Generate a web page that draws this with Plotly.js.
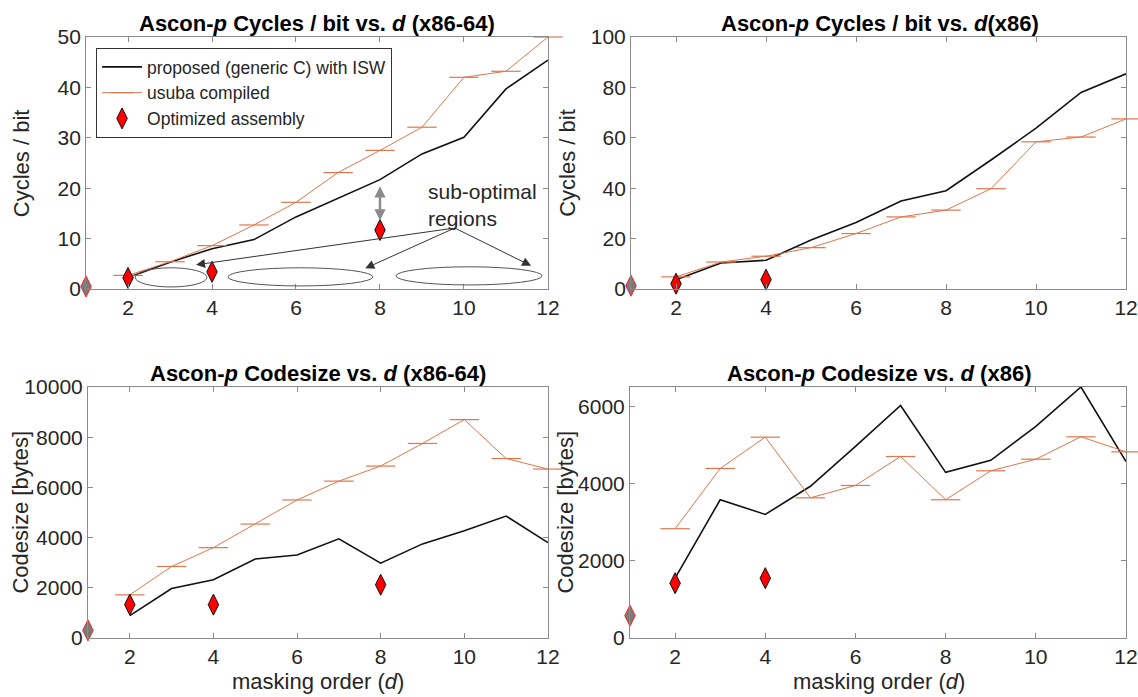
<!DOCTYPE html>
<html>
<head>
<meta charset="utf-8">
<script src="https://cdn.plot.ly/plotly-3.0.1.min.js"></script>
<style>html,body{margin:0;padding:0;background:#fff;}#chart{width:1138px;height:697px;}</style>
</head>
<body>
<div id="chart"></div>
<script>
// ---- data ----
const orders = [2, 3, 4, 5, 6, 7, 8, 9, 10, 11, 12];
const asmOrders64 = [2, 4, 8];
const asmOrders86 = [2, 4];
const baseOrder = [1];

const cycles64_isw   = [2.3, 5.3, 8.0, 9.8, 14.3, 18.0, 21.7, 26.8, 30.1, 39.7, 45.4];
const cycles64_usuba = [2.7, 5.4, 8.6, 12.7, 17.2, 23.1, 27.5, 32.1, 42.0, 43.2, 50.0];
const cycles64_asm   = [2.2, 3.4, 11.7];
const cycles64_base  = [0.5];

const cycles86_isw   = [3.7, 10.3, 11.4, 19.4, 26.4, 34.9, 39.0, 51.2, 63.8, 78.0, 85.4];
const cycles86_usuba = [4.8, 10.7, 13.0, 16.4, 22.0, 28.6, 31.3, 39.8, 58.4, 60.3, 67.5];
const cycles86_asm   = [2.1, 3.7];
const cycles86_base  = [1.3];

const code64_isw   = [890, 1970, 2320, 3150, 3310, 3950, 2980, 3750, 4270, 4860, 3800];
const code64_usuba = [1720, 2850, 3600, 4540, 5500, 6250, 6850, 7750, 8700, 7150, 6730];
const code64_asm   = [1330, 1330, 2120];
const code64_base  = [305];

const code86_isw   = [1550, 3580, 3200, 3930, 4960, 6020, 4290, 4600, 5480, 6500, 4570];
const code86_usuba = [2830, 4390, 5200, 3630, 3950, 4700, 3580, 4330, 4630, 5210, 4820];
const code86_asm   = [1420, 1550];
const code86_base  = [580];

const xTicks = [2, 4, 6, 8, 10, 12];
const seriesNames = ['proposed (generic C) with ISW', 'usuba compiled', 'Optimized assembly'];

// ---- styles ----
const FONT = 'Liberation Sans, Arial, sans-serif';
const ORANGE = '#e0764c';
const TXT = '#262626';
const AX = '#8a8a8a';

function panel(xa, ya, isw, usuba, asmX, asmY, baseY, legend) {
  return [
    {x: orders, y: isw, xaxis: xa, yaxis: ya, type: 'scatter', mode: 'lines',
     name: seriesNames[0], showlegend: legend, legendrank: 1,
     line: {color: '#111', width: 1.6}, cliponaxis: false},
    {x: orders, y: usuba, xaxis: xa, yaxis: ya, type: 'scatter', mode: 'lines+markers',
     name: seriesNames[1], showlegend: legend, legendrank: 2,
     line: {color: ORANGE, width: 1},
     marker: {symbol: 'line-ew', size: 21, color: ORANGE, line: {color: ORANGE, width: 1.2}},
     cliponaxis: false},
    {x: baseOrder, y: baseY, xaxis: xa, yaxis: ya, type: 'scatter', mode: 'markers',
     showlegend: false,
     marker: {symbol: 'diamond-tall', size: 15, color: '#7a7a7a', line: {color: '#ff2020', width: 1}},
     cliponaxis: false},
    {x: asmX, y: asmY, xaxis: xa, yaxis: ya, type: 'scatter', mode: 'markers',
     name: seriesNames[2], showlegend: legend, legendrank: 3,
     marker: {symbol: 'diamond-tall', size: 15, color: '#ff0000', line: {color: '#111', width: 1}},
     cliponaxis: false}
  ];
}

const data = [].concat(
  panel('x', 'y', cycles64_isw, cycles64_usuba, asmOrders64, cycles64_asm, cycles64_base, true),
  panel('x2', 'y2', cycles86_isw, cycles86_usuba, asmOrders86, cycles86_asm, cycles86_base, false),
  panel('x3', 'y3', code64_isw, code64_usuba, asmOrders64, code64_asm, code64_base, false),
  panel('x4', 'y4', code86_isw, code86_usuba, asmOrders86, code86_asm, code86_base, false)
);

function xax(domain, anchor) {
  return {domain: domain, anchor: anchor, range: [1, 12], tickvals: xTicks,
    showline: true, mirror: 'ticks', linecolor: AX, linewidth: 1,
    ticks: 'inside', ticklen: 5, tickcolor: AX, showgrid: false, zeroline: false,
    ticklabeloverflow: 'allow',
    tickfont: {family: FONT, size: 21, color: TXT}, fixedrange: true};
}
function yax(domain, anchor, range, dtick) {
  return {domain: domain, anchor: anchor, range: range, dtick: dtick, tickformat: 'd',
    showline: true, mirror: 'ticks', linecolor: AX, linewidth: 1,
    ticks: 'inside', ticklen: 5, tickcolor: AX, showgrid: false, zeroline: false,
    ticklabeloverflow: 'allow',
    tickfont: {family: FONT, size: 21, color: TXT}, fixedrange: true};
}

const TOP = [0.5854, 0.9469], BOT = [0.0846, 0.4448];
const titleFont = {family: FONT, size: 22, color: '#000'};
const labFont = {family: FONT, size: 22, color: TXT};

const annotations = [
  {text: '<b>Ascon-<i>p</i> Cycles / bit vs. <i>d</i> (x86-64)</b>', xref: 'paper', yref: 'paper', x: 0.2786, y: 0.967, showarrow: false, font: titleFont, xanchor: 'center', yanchor: 'middle'},
  {text: '<b>Ascon-<i>p</i> Cycles / bit vs. <i>d</i>(x86)</b>', xref: 'paper', yref: 'paper', x: 0.7733, y: 0.967, showarrow: false, font: titleFont, xanchor: 'center', yanchor: 'middle'},
  {text: '<b>Ascon-<i>p</i> Codesize vs. <i>d</i> (x86-64)</b>', xref: 'paper', yref: 'paper', x: 0.2794, y: 0.4648, showarrow: false, font: titleFont, xanchor: 'center', yanchor: 'middle'},
  {text: '<b>Ascon-<i>p</i> Codesize vs. <i>d</i> (x86)</b>', xref: 'paper', yref: 'paper', x: 0.772, y: 0.4648, showarrow: false, font: titleFont, xanchor: 'center', yanchor: 'middle'},
  {text: 'Cycles / bit', xref: 'paper', yref: 'paper', x: 0.0185, y: 0.766, textangle: -90, showarrow: false, font: labFont, xanchor: 'center', yanchor: 'middle'},
  {text: 'Cycles / bit', xref: 'paper', yref: 'paper', x: 0.498, y: 0.766, textangle: -90, showarrow: false, font: labFont, xanchor: 'center', yanchor: 'middle'},
  {text: 'Codesize [bytes]', xref: 'paper', yref: 'paper', x: 0.0176, y: 0.2647, textangle: -90, showarrow: false, font: labFont, xanchor: 'center', yanchor: 'middle'},
  {text: 'Codesize [bytes]', xref: 'paper', yref: 'paper', x: 0.4965, y: 0.2647, textangle: -90, showarrow: false, font: labFont, xanchor: 'center', yanchor: 'middle'},
  {text: 'masking order (<i>d</i>)', xref: 'paper', yref: 'paper', x: 0.2794, y: 0.001, showarrow: false, font: labFont, xanchor: 'center', yanchor: 'bottom'},
  {text: 'masking order (<i>d</i>)', xref: 'paper', yref: 'paper', x: 0.772, y: 0.001, showarrow: false, font: labFont, xanchor: 'center', yanchor: 'bottom'},
  // sub-optimal annotations (top-left panel)
  {text: 'sub-optimal<br>regions', xref: 'x', yref: 'y', x: 9.1, y: 16.7, xanchor: 'left', yanchor: 'middle', align: 'left', showarrow: false, font: {family: FONT, size: 21, color: TXT}},
  {xref: 'x', yref: 'y', axref: 'x', ayref: 'y', x: 3.62, y: 4.8, ax: 9.78, ay: 12.1, text: '', showarrow: true, arrowhead: 2, arrowsize: 1.8, arrowwidth: 1, arrowcolor: '#333'},
  {xref: 'x', yref: 'y', axref: 'x', ayref: 'y', x: 7.65, y: 4.1, ax: 9.78, ay: 12.1, text: '', showarrow: true, arrowhead: 2, arrowsize: 1.8, arrowwidth: 1, arrowcolor: '#333'},
  {xref: 'x', yref: 'y', axref: 'x', ayref: 'y', x: 11.6, y: 4.6, ax: 9.78, ay: 12.1, text: '', showarrow: true, arrowhead: 2, arrowsize: 1.8, arrowwidth: 1, arrowcolor: '#333'},
  {xref: 'x', yref: 'y', axref: 'x', ayref: 'y', x: 8, y: 13.6, ax: 8, ay: 20.7, text: '', showarrow: true, arrowhead: 2, startarrowhead: 2, arrowside: 'end+start', arrowsize: 0.9, startarrowsize: 0.9, arrowwidth: 2.5, arrowcolor: '#8c8c8c'}
];

const shapes = [
  {type: 'circle', xref: 'x', yref: 'y', x0: 2.17, x1: 3.88, y0: 0.4, y1: 4.2, line: {color: '#555', width: 1}},
  {type: 'circle', xref: 'x', yref: 'y', x0: 4.38, x1: 7.83, y0: 0.6, y1: 4.2, line: {color: '#555', width: 1}},
  {type: 'circle', xref: 'x', yref: 'y', x0: 8.38, x1: 11.86, y0: 0.8, y1: 4.4, line: {color: '#555', width: 1}}
];

const layout = {
  width: 1138, height: 697,
  margin: {l: 0, r: 0, t: 0, b: 0},
  paper_bgcolor: '#fff', plot_bgcolor: '#fff',
  font: {family: FONT, color: TXT},
  showlegend: true,
  legend: {x: 0.0844, y: 0.9311, xanchor: 'left', yanchor: 'top', bgcolor: '#fff',
    bordercolor: '#333', borderwidth: 1, font: {family: FONT, size: 17.5, color: TXT},
    tracegroupgap: 0, itemwidth: 40},
  xaxis: xax([0.0756, 0.4815], 'y'),
  yaxis: yax(TOP, 'x', [0, 50], 10),
  xaxis2: xax([0.5545, 0.9895], 'y2'),
  yaxis2: yax(TOP, 'x2', [0, 100], 20),
  xaxis3: xax([0.0773, 0.4815], 'y3'),
  yaxis3: yax(BOT, 'x3', [0, 10000], 2000),
  xaxis4: xax([0.5536, 0.9895], 'y4'),
  yaxis4: yax(BOT, 'x4', [0, 6500], 2000),
  annotations: annotations,
  shapes: shapes
};

Plotly.newPlot('chart', data, layout, {displayModeBar: false, staticPlot: true});
</script>
</body>
</html>
